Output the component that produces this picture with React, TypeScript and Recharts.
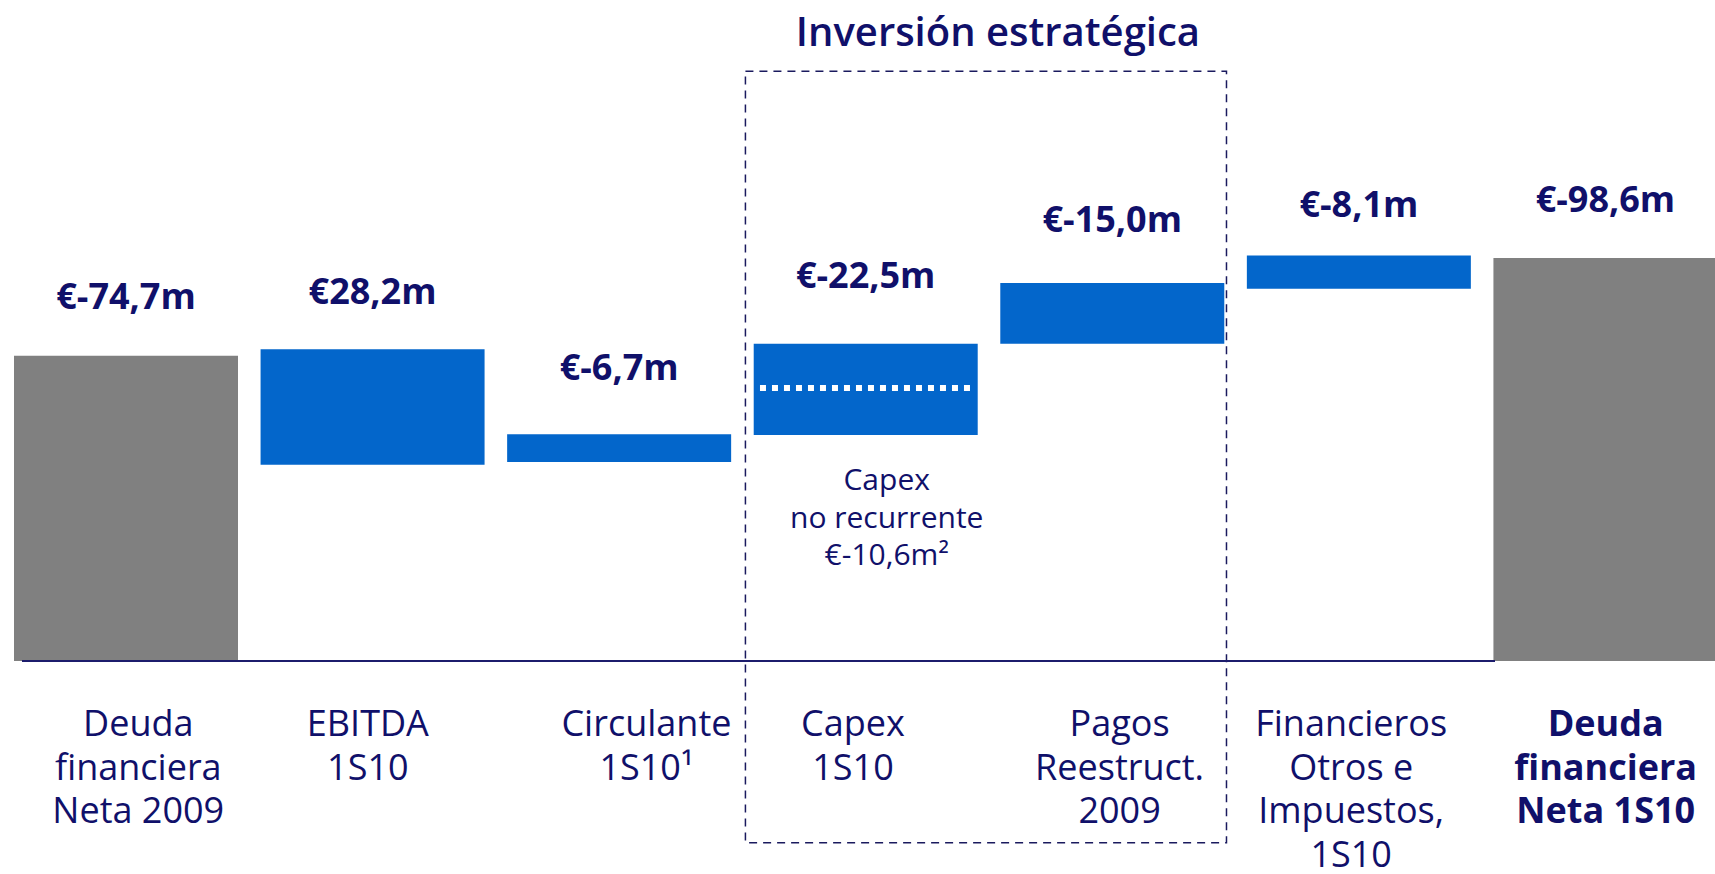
import React from 'react';
import {
  ComposedChart,
  Bar,
  XAxis,
  YAxis,
  ReferenceLine,
  ReferenceArea,
  LabelList,
  Cell,
} from 'recharts';

// ---- data ----
const categoryLines: string[][] = [
  ['Deuda', 'financiera', 'Neta 2009'],
  ['EBITDA', '1S10'],
  ['Circulante', '1S10¹'],
  ['Capex', '1S10'],
  ['Pagos', 'Reestruct.', '2009'],
  ['Financieros', 'Otros e', 'Impuestos,', '1S10'],
  ['Deuda', 'financiera', 'Neta 1S10'],
];
const valueLabels = ['€-74,7m', '€28,2m', '€-6,7m', '€-22,5m', '€-15,0m', '€-8,1m', '€-98,6m'];
// floating bar ranges (€m of net debt) as drawn
const barLow = [0, 48.0, 48.7, 55.3, 77.6, 91.1, 0];
const barHigh = [74.7, 76.3, 55.5, 77.6, 92.5, 99.2, 98.6];
const isTotal = [true, false, false, false, false, false, true];
const boldCategory = [false, false, false, false, false, false, true];
const capexNote = ['Capex', 'no recurrente', '€-10,6m²'];
const capexSplitValue = 66.8; // non‑recurring capex split inside the Capex bar
const boxTitle = 'Inversión estratégica';

// ---- styles ----
const NAVY = '#10106a';
const BLUE = '#0366cb';
const GREY = '#808080';
const FONT = '"Open Sans", "Noto Sans", "DejaVu Sans", sans-serif';
const TICK_NUDGE = [12, -5, 27, -13, 7, -8, 0];
const LABEL_GAP = [47, 45, 54, 56, 51, 39, 46];

const data = categoryLines.map((lines, i) => ({
  idx: i,
  range: [barLow[i], barHigh[i]],
  label: valueLabels[i],
  note: i === 3 ? capexNote.join('|') : '',
}));

const CategoryTick = (props: any) => {
  const { x, y, payload } = props;
  const i = payload.value as number;
  const lines = categoryLines[i] || [];
  return (
    <g>
      {lines.map((ln, k) => (
        <text
          key={k}
          x={x + TICK_NUDGE[i]}
          y={y + 75 + k * 43.5}
          textAnchor="middle"
          fontFamily={FONT}
          fontSize={36}
          fontWeight={boldCategory[i] ? 700 : 400}
          fill={NAVY}
        >
          {ln}
        </text>
      ))}
    </g>
  );
};

const ValueLabel = (props: any) => {
  const { x, y, width, value, index } = props;
  const gap = LABEL_GAP[index] ?? 48;
  return (
    <text
      x={x + width / 2}
      y={y - gap}
      textAnchor="middle"
      fontFamily={FONT}
      fontSize={36}
      fontWeight={700}
      fill={NAVY}
    >
      {value}
    </text>
  );
};

const NoteLabel = (props: any) => {
  const { x, y, width, height, value } = props;
  if (!value) return null;
  const lines = String(value).split('|');
  return (
    <g>
      {lines.map((ln, k) => (
        <text
          key={k}
          x={x + width / 2 + 21}
          y={y + height + 55 + k * 37.5}
          textAnchor="middle"
          fontFamily={FONT}
          fontSize={30}
          fill={NAVY}
        >
          {ln}
        </text>
      ))}
    </g>
  );
};

const BoxTitle = (props: any) => {
  const vb = props.viewBox || {};
  return (
    <text
      x={vb.x + vb.width / 2 + 12}
      y={vb.y - 25}
      textAnchor="middle"
      fontFamily={FONT}
      fontSize={40}
      fontWeight={600}
      fill={NAVY}
    >
      {boxTitle}
    </text>
  );
};

export default function App() {
  return (
    <div
      style={{
        position: 'absolute',
        left: 0,
        top: 0,
        width: 1715,
        height: 874,
        overflow: 'hidden',
        background: '#ffffff',
      }}
    >
      <ComposedChart
        width={1729}
        height={874}
        data={data}
        margin={{ top: 48, right: 0, bottom: 0, left: 3 }}
      >
        <XAxis
          type="number"
          dataKey="idx"
          domain={[-0.5, 6.5]}
          ticks={[0, 1, 2, 3, 4, 5, 6]}
          interval={0}
          height={213}
          axisLine={false}
          tickLine={false}
          tickSize={0}
          tickMargin={0}
          tick={<CategoryTick />}
          allowDataOverflow
        />
        <YAxis type="number" domain={[0, 150]} hide width={0} allowDataOverflow />
        <ReferenceArea
          x1={2.511}
          x2={4.462}
          y1={-44.5}
          y2={144.3}
          ifOverflow="visible"
          fill="none"
          fillOpacity={0}
          stroke="#1a1a5e"
          strokeWidth={1.5}
          strokeDasharray="8 6"
          label={<BoxTitle />}
        />
        <ReferenceLine
          segment={[
            { x: -0.423, y: 0 },
            { x: 5.551, y: 0 },
          ]}
          stroke="#1c1c6c"
          strokeWidth={2}
          ifOverflow="visible"
        />
        <Bar dataKey="range" barSize={224} isAnimationActive={false}>
          {data.map((d, i) => (
            <Cell key={i} fill={isTotal[i] ? GREY : BLUE} />
          ))}
          <LabelList dataKey="label" content={<ValueLabel />} />
          <LabelList dataKey="note" content={<NoteLabel />} />
        </Bar>
        <ReferenceLine
          segment={[
            { x: 2.57, y: capexSplitValue },
            { x: 3.422, y: capexSplitValue },
          ]}
          stroke="#ffffff"
          strokeWidth={6}
          strokeDasharray="6 6"
          ifOverflow="visible"
        />
      </ComposedChart>
    </div>
  );
}
